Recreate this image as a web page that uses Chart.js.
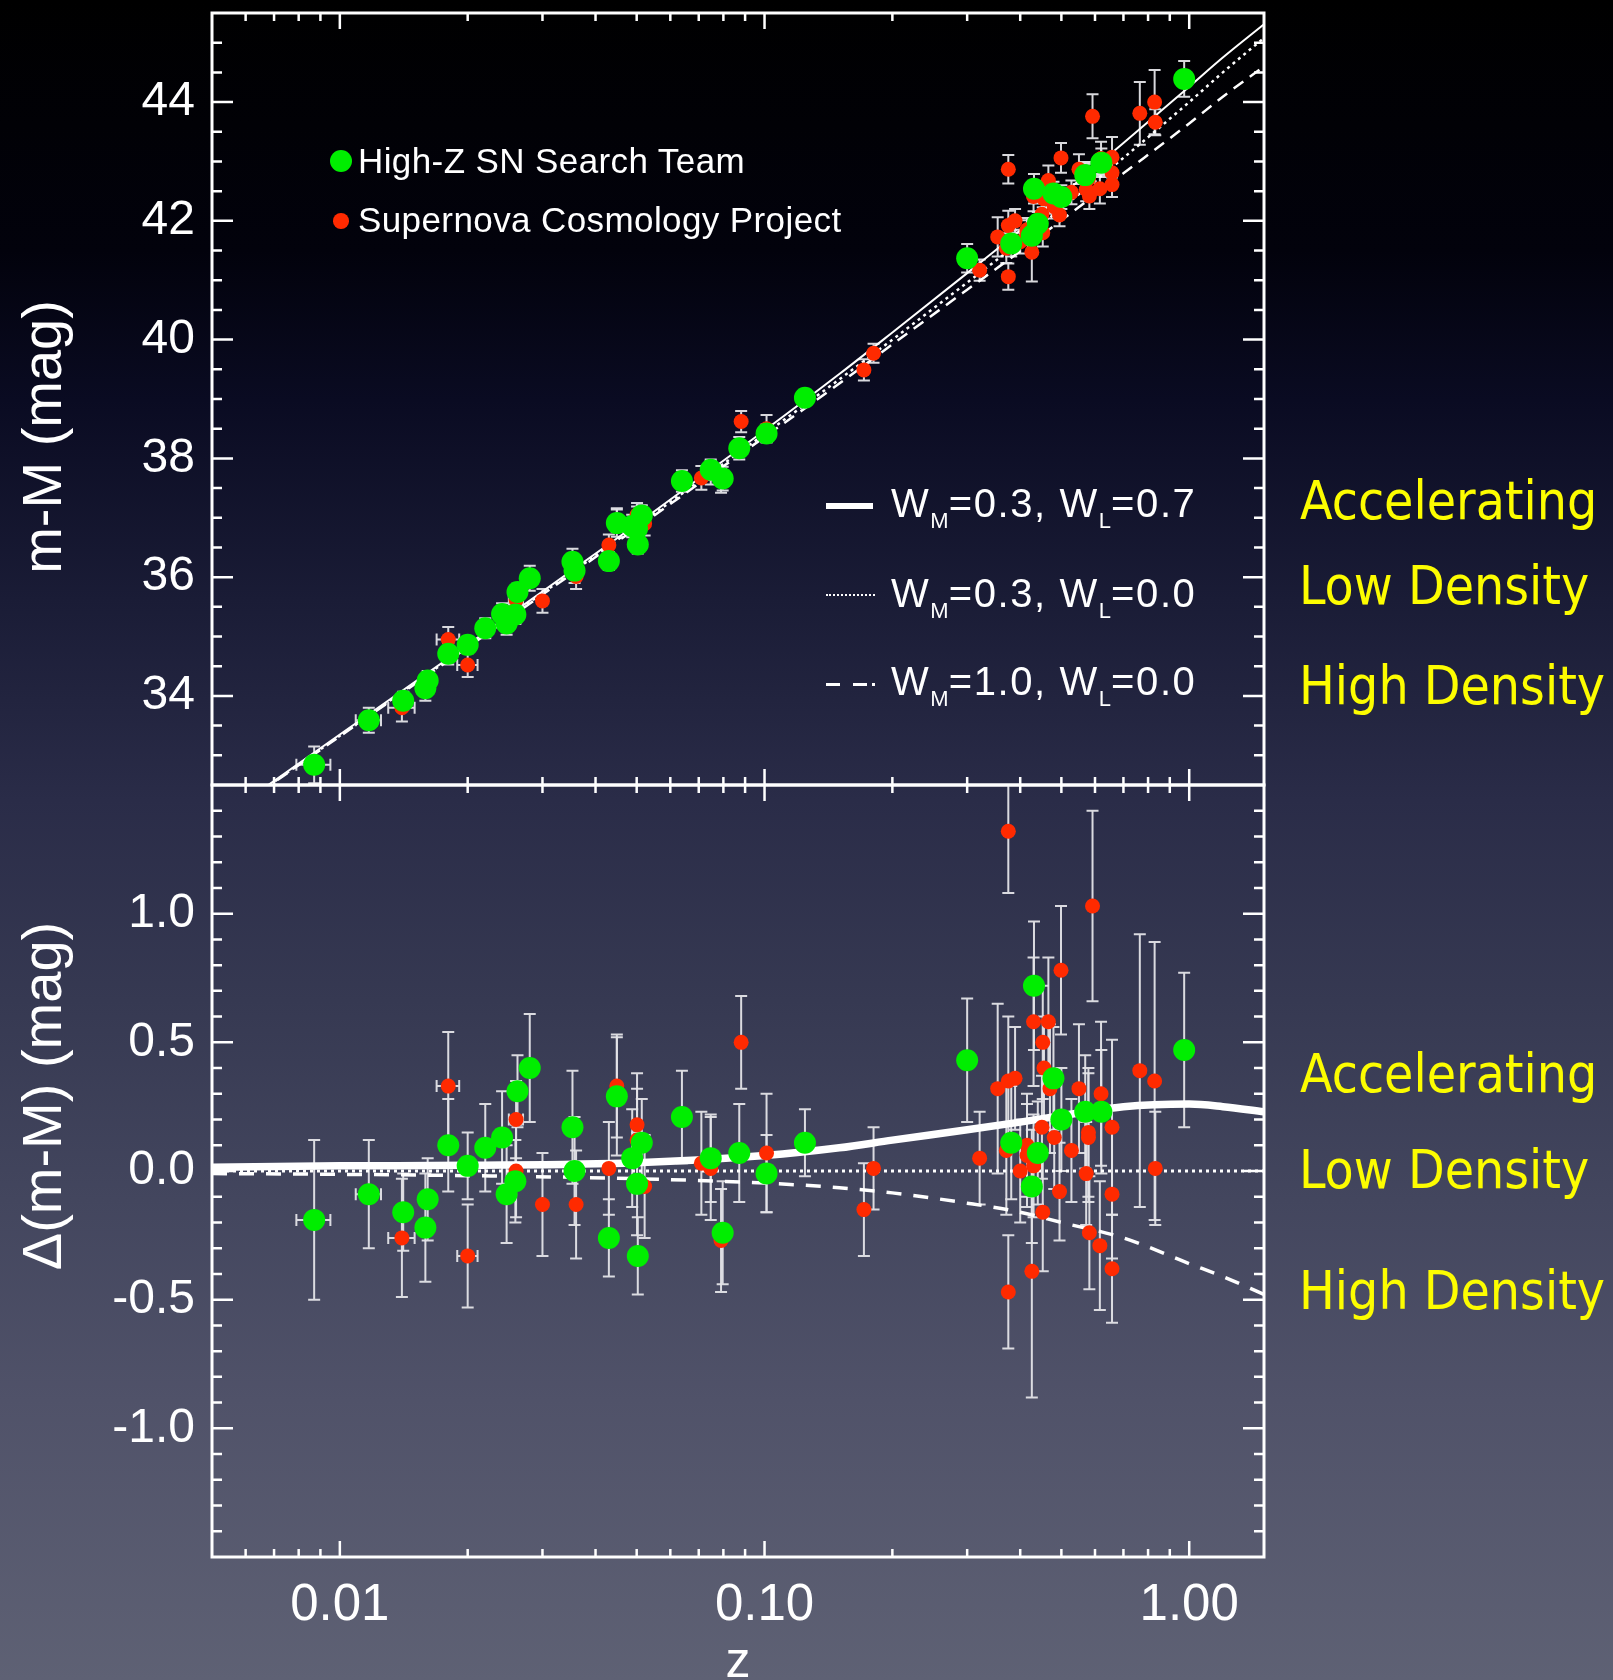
<!DOCTYPE html>
<html>
<head>
<meta charset="utf-8">
<script src="https://cdn.jsdelivr.net/npm/chart.js@4.4.0/dist/chart.umd.min.js"></script>
<style>
  html, body { margin: 0; padding: 0; }
  body {
    width: 1613px; height: 1680px; position: relative; overflow: hidden;
    background: linear-gradient(to bottom, #000000 0px, #02020c 250px, #0a0b22 400px, #1a1c36 600px,
      #2a2c48 800px, #363952 1000px, #43465e 1200px, #505269 1400px, #5e6174 1680px);
    font-family: "Liberation Sans", Arial, sans-serif; color: #fff;
  }
  canvas { position: absolute; left: 0; }
  #top { top: 0; }
  #bot { top: 770px; }
  .txt { position: absolute; white-space: nowrap; line-height: 1; }
  .leg { font-size: 35px; letter-spacing: 0.4px; }
  .mod { font-size: 40px; letter-spacing: 1.6px; }
  .mod sub { font-size: 22px; vertical-align: -11px; line-height: 0; letter-spacing: 0; }
  .ttl { font-size: 56px; height: 56px; line-height: 56px; width: 500px; text-align: center; transform: rotate(-90deg); }
  .yel { color: #fdfd00; font-size: 53px; font-family: "DejaVu Sans Condensed", "DejaVu Sans", sans-serif; font-stretch: condensed; }
  .dot { position: absolute; border-radius: 50%; }
  .bar { position: absolute; background: #fff; }
</style>
</head>
<body>
<canvas id="top" width="1613" height="800"></canvas>
<canvas id="bot" width="1613" height="910"></canvas>

<span class="dot" style="left:330px;top:150px;width:22px;height:22px;background:#00ee00"></span>
<span class="dot" style="left:333px;top:213px;width:15.6px;height:15.6px;background:#ff2a00"></span>
<div class="txt leg" style="left:358px;top:143px">High-Z SN Search Team</div>
<div class="txt leg" style="left:358px;top:202px">Supernova Cosmology Project</div>

<div class="bar" style="left:826px;top:503px;width:47px;height:6px"></div>
<div style="position:absolute;left:826px;top:594px;width:49px;border-top:2px dotted #fff"></div>
<div class="bar" style="left:826px;top:683px;width:14px;height:2.5px"></div>
<div class="bar" style="left:853px;top:683px;width:14px;height:2.5px"></div>
<div class="bar" style="left:872px;top:683px;width:3px;height:2.5px"></div>
<div class="txt mod" style="left:891px;top:483px">W<sub>M</sub>=0.3, W<sub>L</sub>=0.7</div>
<div class="txt mod" style="left:891px;top:573px">W<sub>M</sub>=0.3, W<sub>L</sub>=0.0</div>
<div class="txt mod" style="left:891px;top:661px">W<sub>M</sub>=1.0, W<sub>L</sub>=0.0</div>

<div class="txt yel" style="left:1300px;top:474px">Accelerating</div>
<div class="txt yel" style="left:1299px;top:559px">Low Density</div>
<div class="txt yel" style="left:1299px;top:659px">High Density</div>
<div class="txt yel" style="left:1300px;top:1047px">Accelerating</div>
<div class="txt yel" style="left:1299px;top:1143px">Low Density</div>
<div class="txt yel" style="left:1299px;top:1264px">High Density</div>

<div class="txt ttl" style="left:-208px;top:409px">m-M (mag)</div>
<div class="txt ttl" style="left:-208px;top:1068px">&Delta;(m-M) (mag)</div>
<div class="txt" style="left:688px;top:1635px;width:100px;text-align:center;font-size:50px">z</div>

<script>
// model curves
const zModel  = [0.005, 0.01, 0.02, 0.05, 0.1, 0.15, 0.2, 0.3, 0.4, 0.5, 0.7, 1.0, 1.2, 1.5];
const muAccel = [31.83, 33.35, 34.86, 36.89, 38.47, 39.42, 40.12, 41.12, 41.84, 42.43, 43.31, 44.26, 44.75, 45.31];
const muLow   = [31.82, 33.33, 34.84, 36.86, 38.41, 39.33, 40.00, 40.96, 41.65, 42.21, 43.06, 44.00, 44.50, 45.08];
const muHigh  = [31.81, 33.32, 34.82, 36.83, 38.36, 39.26, 39.92, 40.84, 41.49, 42.01, 42.80, 43.64, 44.09, 44.60];
const dmAccel = [0.015, 0.02, 0.022, 0.032, 0.06, 0.09, 0.12, 0.16, 0.19, 0.215, 0.25, 0.26, 0.25, 0.23];
const dmLow   = [0, 0, 0, 0, 0, 0, 0, 0, 0, 0, 0, 0, 0, 0];
const dmHigh  = [-0.01, -0.013, -0.018, -0.03, -0.047, -0.065, -0.085, -0.125, -0.16, -0.2, -0.26, -0.36, -0.41, -0.48];

// High-Z SN Search Team
const zHZ   = [0.0087, 0.0117, 0.0141, 0.0161, 0.0159, 0.0180, 0.0200, 0.0220, 0.0241, 0.0262, 0.0280, 0.0259, 0.0247,
               0.0353, 0.0357, 0.0449, 0.0430, 0.0488, 0.0514, 0.0501, 0.0503, 0.0639, 0.0747, 0.0797, 0.0872, 0.1011,
               0.1245, 0.300, 0.431, 0.381, 0.440, 0.426, 0.479, 0.500, 0.569, 0.621, 0.973];
const muHZ  = [32.84, 33.59, 33.92, 34.26, 34.13, 34.71, 34.86, 35.14, 35.38, 35.75, 35.98, 35.37, 35.22,
               36.26, 36.11, 36.91, 36.27, 36.86, 37.04, 36.82, 36.55, 37.62, 37.81, 37.66, 38.17, 38.42,
               39.02, 41.37, 42.54, 41.62, 41.95, 41.75, 42.46, 42.40, 42.77, 42.98, 44.39];
const dmHZ  = [-0.19, -0.09, -0.16, -0.11, -0.22, 0.10, 0.02, 0.09, 0.13, 0.31, 0.40, -0.04, -0.09,
               0.17, 0.00, 0.29, -0.26, 0.05, 0.11, -0.05, -0.33, 0.21, 0.05, -0.24, 0.07, -0.01,
               0.11, 0.43, 0.72, 0.11, 0.07, -0.06, 0.36, 0.20, 0.23, 0.23, 0.47];
const errHZ = [0.31, 0.21, 0.15, 0.16, 0.21, 0.18, 0.13, 0.17, 0.18, 0.14, 0.21, 0.16, 0.19,
               0.22, 0.21, 0.23, 0.15, 0.19, 0.17, 0.20, 0.15, 0.18, 0.17, 0.20, 0.19, 0.15,
               0.13, 0.24, 0.25, 0.22, 0.20, 0.22, 0.20, 0.20, 0.22, 0.24, 0.30];
const zErrHZ = [0.0008, 0.0008, 0, 0, 0, 0, 0, 0, 0, 0, 0, 0, 0,
                0, 0, 0, 0, 0, 0, 0, 0, 0, 0, 0, 0, 0,
                0, 0, 0, 0, 0, 0, 0, 0, 0, 0, 0];

// Supernova Cosmology Project
const zSCP   = [0.0140, 0.0180, 0.0200, 0.0260, 0.0260, 0.0300, 0.0360, 0.0449, 0.0430, 0.0501, 0.0501, 0.0522,
                0.0710, 0.0747, 0.0790, 0.0881, 0.1011, 0.1806, 0.1714,
                0.375, 0.592, 0.499, 0.430, 0.466, 0.452, 0.455, 0.470, 0.354, 0.375, 0.389, 0.550, 0.620,
                0.765, 0.829, 0.658, 0.579, 0.579, 0.371, 0.321, 0.481, 0.450, 0.415, 0.415, 0.430, 0.400,
                0.528, 0.572, 0.495, 0.452, 0.658, 0.832, 0.582, 0.616, 0.658, 0.426, 0.375];
const muSCP  = [33.80, 34.95, 34.52, 35.62, 35.42, 35.60, 36.01, 36.96, 36.54, 37.05, 36.99, 36.90,
                37.67, 37.76, 37.62, 38.62, 38.50, 39.77, 39.49,
                42.87, 43.76, 43.06, 42.41, 42.68, 42.45, 42.37, 42.37, 41.73, 41.92, 42.00, 42.87, 43.05,
                43.81, 44.00, 43.07, 42.74, 42.71, 41.54, 41.17, 42.24, 42.11, 41.85, 41.81, 41.85, 41.65,
                42.48, 42.53, 42.10, 41.80, 42.81, 43.66, 42.42, 42.54, 42.61, 41.47, 41.06];
const dmSCP  = [-0.26, 0.33, -0.33, 0.20, 0.00, -0.13, -0.13, 0.33, 0.01, 0.18, 0.12, -0.06,
                0.03, 0.01, -0.27, 0.50, 0.07, 0.01, -0.15,
                1.32, 1.03, 0.78, 0.58, 0.58, 0.50, 0.40, 0.32, 0.32, 0.35, 0.36, 0.32, 0.30,
                0.39, 0.35, 0.17, 0.15, 0.13, 0.08, 0.05, 0.13, 0.17, 0.10, 0.06, 0.02, 0.00,
                0.08, -0.01, -0.08, -0.16, -0.09, 0.01, -0.24, -0.29, -0.38, -0.39, -0.47];
const errSCP = [0.23, 0.21, 0.20, 0.15, 0.18, 0.20, 0.21, 0.20, 0.18, 0.20, 0.20, 0.20,
                0.20, 0.20, 0.20, 0.18, 0.23, 0.16, 0.18,
                0.24, 0.37, 0.25, 0.25, 0.25, 0.22, 0.20, 0.25, 0.33, 0.25, 0.20, 0.25, 0.28,
                0.53, 0.54, 0.34, 0.25, 0.25, 0.25, 0.18, 0.20, 0.20, 0.20, 0.20, 0.20, 0.20,
                0.20, 0.20, 0.19, 0.23, 0.25, 0.22, 0.22, 0.25, 0.21, 0.49, 0.22];
const zErrSCP = [0.0010, 0.0011, 0.0011, 0.0010, 0, 0, 0, 0, 0, 0, 0, 0,
                 0, 0, 0, 0, 0, 0, 0,
                 0, 0, 0, 0, 0, 0, 0, 0, 0, 0, 0, 0, 0,
                 0, 0, 0, 0, 0, 0, 0, 0, 0, 0, 0, 0, 0,
                 0, 0, 0, 0, 0, 0, 0, 0, 0, 0, 0];

// ticks
const zTicks = [0.01, 0.1, 1];
const zTickLabels = ["0.01", "0.10", "1.00"];
const muTicks = [34, 36, 38, 40, 42, 44];
const muTickLabels = ["34", "36", "38", "40", "42", "44"];
const dmTicks = [-1.0, -0.5, 0.0, 0.5, 1.0];
const dmTickLabels = ["-1.0", "-0.5", "0.0", "0.5", "1.0"];

const zMinor = [];
[0.001, 0.01, 0.1].forEach(d => { for (let k = 2; k <= 9; k++) { const v = +(k * d).toFixed(4); if (v > 0.005) zMinor.push(v); } });

const GREEN = '#00ee00';
const RED = '#ff2a00';
const FONT = 'Liberation Sans';

function pts(xs, ys){
    return xs.map((v, i) => ({x: v, y: ys[i]}));
}

// error bars under the points, axes box and inward ticks on top
const frame = {
    id: 'frame',
    beforeDatasetsDraw(chart){
        const ctx = chart.ctx, a = chart.chartArea, x = chart.scales.x, y = chart.scales.y;
        ctx.save();
        ctx.beginPath();
        ctx.rect(a.left, a.top, a.right - a.left, a.bottom - a.top);
        ctx.clip();
        ctx.strokeStyle = 'rgba(228,228,232,0.95)';
        ctx.lineWidth = 2;
        chart.data.datasets.forEach(ds => {
            if (!ds.yErr) return;
            ds.data.forEach((p, i) => {
                const px = x.getPixelForValue(p.x);
                const py = y.getPixelForValue(p.y);
                const t = y.getPixelForValue(p.y + ds.yErr[i]);
                const b = y.getPixelForValue(p.y - ds.yErr[i]);
                ctx.beginPath();
                ctx.moveTo(px, t); ctx.lineTo(px, b);
                ctx.moveTo(px - 6, t); ctx.lineTo(px + 6, t);
                ctx.moveTo(px - 6, b); ctx.lineTo(px + 6, b);
                const ze = ds.xErr ? ds.xErr[i] : 0;
                if (ze > 0) {
                    const l = x.getPixelForValue(p.x - ze), r = x.getPixelForValue(p.x + ze);
                    ctx.moveTo(l, py); ctx.lineTo(r, py);
                    ctx.moveTo(l, py - 6); ctx.lineTo(l, py + 6);
                    ctx.moveTo(r, py - 6); ctx.lineTo(r, py + 6);
                }
                ctx.stroke();
            });
        });
        ctx.restore();
    },
    afterDraw(chart, args, opts){
        const ctx = chart.ctx, a = chart.chartArea, x = chart.scales.x, y = chart.scales.y;
        ctx.save();
        ctx.strokeStyle = '#fff';
        ctx.lineWidth = 3;
        ctx.strokeRect(a.left, a.top, a.right - a.left, a.bottom - a.top);
        ctx.lineWidth = 2.5;
        ctx.beginPath();
        const xt = (v, len) => {
            const px = x.getPixelForValue(v);
            ctx.moveTo(px, a.top); ctx.lineTo(px, a.top + len);
            ctx.moveTo(px, a.bottom); ctx.lineTo(px, a.bottom - len);
        };
        const yt = (v, len) => {
            const py = y.getPixelForValue(v);
            ctx.moveTo(a.left, py); ctx.lineTo(a.left + len, py);
            ctx.moveTo(a.right, py); ctx.lineTo(a.right - len, py);
        };
        zTicks.forEach(v => xt(v, 16));
        zMinor.forEach(v => xt(v, 8));
        opts.yMajor.forEach(v => yt(v, 21));
        opts.yMinor.forEach(v => yt(v, 10));
        ctx.stroke();
        ctx.restore();
    }
};

function minorList(lo, hi, step, majors){
    let out = [];
    for (let v = lo; v <= hi + 1e-9; v += step) {
        const r = Math.round(v * 100) / 100;
        if (!majors.some(m => Math.abs(m - r) < 1e-6)) out.push(r);
    }
    return out;
}

function makeChart(id, cfg){
    const sets = [
        { label: 'High-Z SN Search Team', data: pts(zHZ, cfg.hz), yErr: errHZ, xErr: zErrHZ,
          pointBackgroundColor: GREEN, pointRadius: 11, pointBorderWidth: 0, order: 0 },
        { label: 'Supernova Cosmology Project', data: pts(zSCP, cfg.scp), yErr: errSCP, xErr: zErrSCP,
          pointBackgroundColor: RED, pointRadius: 7.5, pointBorderWidth: 0, order: 1 },
        { data: pts(zModel, cfg.accel), showLine: true, borderColor: '#fff', borderWidth: cfg.solidW,
          pointRadius: 0, cubicInterpolationMode: 'monotone', order: 2 },
        { data: pts(zModel, cfg.low), showLine: true, borderColor: '#fff', borderWidth: cfg.dotW,
          borderDash: [3, 4], pointRadius: 0, cubicInterpolationMode: 'monotone', order: 3 },
        { data: pts(zModel, cfg.high), showLine: true, borderColor: '#fff', borderWidth: cfg.dashW,
          borderDash: cfg.dash, pointRadius: 0, cubicInterpolationMode: 'monotone', order: 4 }
    ];

    return new Chart(document.getElementById(id), {
        type: 'scatter',
        data: { datasets: sets },
        options: {
            responsive: false,
            animation: false,
            devicePixelRatio: 1,
            events: [],
            layout: { padding: cfg.pad },
            plugins: {
                legend: { display: false },
                tooltip: { enabled: false },
                frame: { yMajor: cfg.yTicks, yMinor: cfg.yMinor }
            },
            scales: {
                x: {
                    type: 'logarithmic', min: 0.005, max: 1.5,
                    display: cfg.showX,
                    grid: { display: false, drawTicks: false },
                    border: { display: false },
                    afterBuildTicks: s => { s.ticks = zTicks.map(v => ({value: v})); },
                    afterFit: s => { s.height = cfg.xH; s.paddingLeft = 0; s.paddingRight = 0; },
                    ticks: {
                        color: '#fff', font: { family: FONT, size: 51 }, padding: 18,
                        maxRotation: 0, autoSkip: false,
                        callback: (v, i) => zTickLabels[i]
                    }
                },
                y: {
                    type: 'linear', min: cfg.yMin, max: cfg.yMax,
                    grid: { display: false, drawTicks: false },
                    border: { display: false },
                    afterBuildTicks: s => { s.ticks = cfg.yTicks.map(v => ({value: v})); },
                    afterFit: s => { s.width = 212; s.paddingTop = 0; s.paddingBottom = 0; },
                    ticks: {
                        color: '#fff', font: { family: FONT, size: 48 }, padding: 17,
                        autoSkip: false,
                        callback: (v, i) => cfg.yLabels[i]
                    }
                }
            }
        },
        plugins: [frame]
    });
}

makeChart('top', {
    hz: muHZ, scp: muSCP, accel: muAccel, low: muLow, high: muHigh,
    solidW: 2, dotW: 2.5, dashW: 2.5, dash: [12, 8],
    yMin: 32.5, yMax: 45.5, yTicks: muTicks, yLabels: muTickLabels,
    yMinor: minorList(33, 45, 0.5, muTicks),
    showX: false, xH: 0,
    pad: { left: 0, right: 349, top: 13, bottom: 15 }
});

makeChart('bot', {
    hz: dmHZ, scp: dmSCP, accel: dmAccel, low: dmLow, high: dmHigh,
    solidW: 7.5, dotW: 3, dashW: 3.5, dash: [15, 12],
    yMin: -1.5, yMax: 1.5, yTicks: dmTicks, yLabels: dmTickLabels,
    yMinor: minorList(-1.4, 1.4, 0.1, dmTicks),
    showX: true, xH: 123,
    pad: { left: 0, right: 349, top: 15, bottom: 0 }
});
</script>
</body>
</html>
